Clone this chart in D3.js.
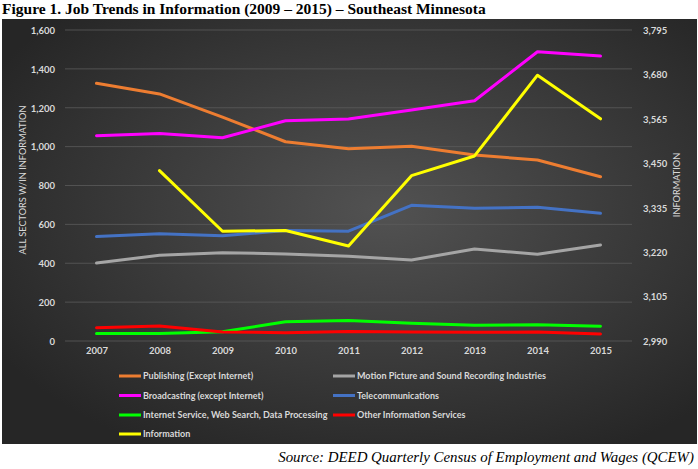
<!DOCTYPE html>
<html><head><meta charset="utf-8">
<script src="https://cdn.jsdelivr.net/npm/d3@7"></script>
<style>body{margin:0;background:#fff;}svg{display:block;}</style>
</head><body>
<svg id="c" width="698" height="469"></svg>
<script>
const years = ["2007","2008","2009","2010","2011","2012","2013","2014","2015"];
const leftTicks = [0,200,400,600,800,1000,1200,1400,1600];
const rightTicks = [2990,3105,3220,3335,3450,3565,3680,3795];
const publishing = [1326,1271,1152,1025,989,1002,957,931,845];
const motionPicture = [401,441,454,448,436,417,473,446,494];
const broadcasting = [1056,1068,1046,1133,1142,1188,1236,1488,1466];
const telecom = [537,552,542,568,565,698,683,688,657];
const internetSvc = [38,38,48,99,106,91,81,84,76];
const otherInfo = [68,77,46,43,49,46,45,46,36];
const information = [null,3431,3274,3276,3236,3418,3469,3678,3565];

const seriesList = [
  {name:"Publishing (Except Internet)", vals:publishing, color:"#ed7d31", axis:"L"},
  {name:"Motion Picture and Sound Recording Industries", vals:motionPicture, color:"#a5a5a5", axis:"L"},
  {name:"Broadcasting (except Internet)", vals:broadcasting, color:"#ff00ff", axis:"L"},
  {name:"Telecommunications", vals:telecom, color:"#4472c4", axis:"L"},
  {name:"Internet Service, Web Search, Data Processing", vals:internetSvc, color:"#00ff00", axis:"L"},
  {name:"Other Information Services", vals:otherInfo, color:"#ff0000", axis:"L"},
  {name:"Information", vals:information, color:"#ffff00", axis:"R"}
];

const svg = d3.select("#c");
const font = "Lato, 'Open Sans', sans-serif";
const txt = "#d9d9d9";

// title
svg.append("text").attr("x",2).attr("y",14)
  .attr("font-family","'Liberation Serif', 'Times New Roman', serif")
  .attr("font-weight","bold").attr("font-size",15.5).attr("fill","#000")
  .text("Figure 1. Job Trends in Information (2009 \u2013 2015) \u2013 Southeast Minnesota");

// background
const defs = svg.append("defs");
const rg = defs.append("radialGradient").attr("id","bg")
  .attr("cx","55%").attr("cy","45%").attr("r","65%");
rg.append("stop").attr("offset","0%").attr("stop-color","#525252");
rg.append("stop").attr("offset","100%").attr("stop-color","#262626");
svg.append("rect").attr("x",2).attr("y",19).attr("width",695).attr("height",425).attr("fill","url(#bg)");

const x = d3.scalePoint().domain(years).range([65,632]).padding(0.5);
const yL = d3.scaleLinear().domain([0,1600]).range([341,30]);
const yR = d3.scaleLinear().domain([2990,3795]).range([341,30]);

// gridlines
svg.append("g").selectAll("line").data(leftTicks).join("line")
  .attr("x1",65).attr("x2",632).attr("y1",d=>yL(d)).attr("y2",d=>yL(d))
  .attr("stroke","#5a5a5a").attr("stroke-width",0.8);

// left axis
const gL = svg.append("g").attr("transform","translate(55,0)")
  .call(d3.axisLeft(yL).tickValues(leftTicks).tickSize(0).tickPadding(0).tickFormat(d3.format(",")));
gL.select(".domain").remove();
gL.selectAll("text").attr("fill",txt).attr("font-family",font).attr("font-weight","bold").attr("font-size",9.5).attr("dy","0.35em");

// right axis
const gR = svg.append("g").attr("transform","translate(643,0)")
  .call(d3.axisRight(yR).tickValues(rightTicks).tickSize(0).tickPadding(0).tickFormat(d3.format(",")));
gR.select(".domain").remove();
gR.selectAll("text").attr("fill",txt).attr("font-family",font).attr("font-weight","bold").attr("font-size",9.5).attr("dy","0.35em");

// x axis
const gX = svg.append("g").attr("transform","translate(0,347)")
  .call(d3.axisBottom(x).tickSize(0).tickPadding(0));
gX.select(".domain").remove();
gX.selectAll("text").attr("fill",txt).attr("font-family",font).attr("font-weight","bold").attr("font-size",9.5).attr("dy","0.71em");

// axis titles
svg.append("text").attr("transform","translate(26,180) rotate(-90)").attr("text-anchor","middle")
  .attr("fill",txt).attr("font-family",font).attr("font-size",9.2)
  .text("ALL SECTORS W/IN INFORMATION");
svg.append("text").attr("transform","translate(680,185) rotate(-90)").attr("text-anchor","middle")
  .attr("fill",txt).attr("font-family",font).attr("font-size",9.2)
  .text("INFORMATION");

// lines
const drawOrder = [1,3,0,2,4,5,6];
drawOrder.forEach(i=>{
  const s = seriesList[i];
  const ys = s.axis==="L"?yL:yR;
  const line = d3.line().defined(d=>d!=null).x((d,j)=>x(years[j])).y(d=>ys(d));
  svg.append("path").attr("d",line(s.vals)).attr("fill","none")
    .attr("stroke",s.color).attr("stroke-width",3).attr("stroke-linejoin","round").attr("stroke-linecap","round");
});

// legend
const legendPos = [[119,376],[333,376],[119,395.5],[333,395.5],[119,415],[333,415],[119,434]];
seriesList.forEach((s,k)=>{
  const [lx,ly] = legendPos[k];
  svg.append("line").attr("x1",lx).attr("x2",lx+22).attr("y1",ly).attr("y2",ly)
    .attr("stroke",s.color).attr("stroke-width",3);
  svg.append("text").attr("x",lx+24).attr("y",ly).attr("dy","0.35em")
    .attr("fill",txt).attr("font-family",font).attr("font-weight","bold").attr("font-size",9)
    .text(s.name);
});

// source
svg.append("text").attr("x",694).attr("y",462).attr("text-anchor","end")
  .attr("font-family","'Liberation Serif', 'Times New Roman', serif").attr("font-style","italic")
  .attr("font-size",14.9).attr("fill","#000")
  .text("Source: DEED Quarterly Census of Employment and Wages (QCEW)");
</script>
</body></html>
